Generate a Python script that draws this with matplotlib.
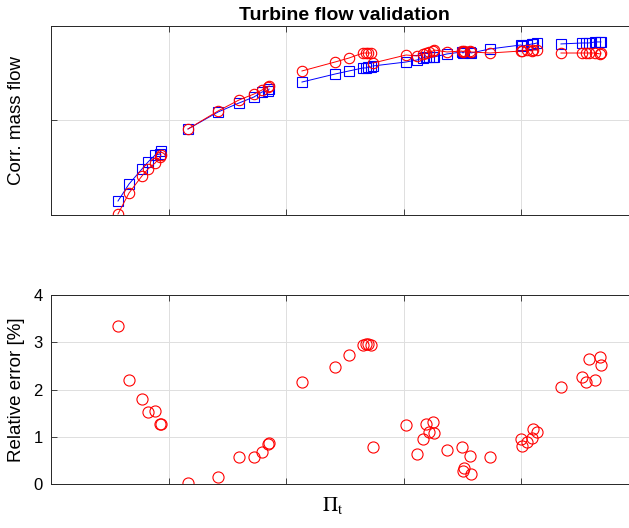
import matplotlib
matplotlib.use('Agg')
import matplotlib.pyplot as plt

plt.rcParams['font.family'] = ['Liberation Sans', 'DejaVu Sans']
plt.rcParams['mathtext.fontset'] = 'stix'

# pressure ratio of every operating point, one list per speed line
pi_t = [
    [1.285, 1.332, 1.387, 1.413, 1.443, 1.464, 1.468],
    [1.583, 1.711, 1.800, 1.864, 1.898, 1.923, 1.928],
    [2.068, 2.209, 2.268, 2.328, 2.340, 2.349, 2.362],
    [2.370, 2.511, 2.557, 2.583, 2.596, 2.609, 2.626, 2.630, 2.685, 2.749,
     2.753, 2.757, 2.783, 2.787, 2.868, 3.000, 3.004, 3.026, 3.047, 3.051, 3.068],
    [3.170, 3.260, 3.277, 3.289, 3.315, 3.336, 3.340],
]

# measured corrected mass flow
m_meas = [
    [0.4148, 0.4328, 0.4487, 0.4561, 0.4635, 0.4646, 0.4677],
    [0.4910, 0.5090, 0.5185, 0.5249, 0.5302, 0.5312, 0.5333],
    [0.5407, 0.5492, 0.5524, 0.5556, 0.5556, 0.5566, 0.5566],
    [0.5577, 0.5619, 0.5640, 0.5661, 0.5672, 0.5672, 0.5672, 0.5672, 0.5704, 0.5725,
     0.5714, 0.5725, 0.5725, 0.5714, 0.5757, 0.5799, 0.5788, 0.5799, 0.5810, 0.5810, 0.5820],
    [0.5810, 0.5820, 0.5820, 0.5820, 0.5831, 0.5831, 0.5831],
]

# model corrected mass flow
m_model = [
    [0.4011, 0.4233, 0.4413, 0.4487, 0.4550, 0.4614, 0.4635],
    [0.4910, 0.5101, 0.5217, 0.5280, 0.5323, 0.5354, 0.5365],
    [0.5524, 0.5619, 0.5661, 0.5714, 0.5714, 0.5714, 0.5714],
    [0.5608, 0.5693, 0.5683, 0.5704, 0.5714, 0.5725, 0.5735, 0.5746, 0.5725, 0.5735,
     0.5725, 0.5735, 0.5735, 0.5725, 0.5714, 0.5735, 0.5735, 0.5746, 0.5735, 0.5746, 0.5746],
    [0.5714, 0.5714, 0.5714, 0.5714, 0.5714, 0.5704, 0.5714],
]

# relative error [%]
rel_err = [
    [3.34, 2.21, 1.80, 1.53, 1.55, 1.27, 1.27],
    [0.02, 0.15, 0.57, 0.57, 0.68, 0.85, 0.86],
    [2.16, 2.48, 2.73, 2.94, 2.96, 2.96, 2.94],
    [0.78, 1.25, 0.63, 0.95, 1.27, 1.10, 1.31, 1.08, 0.72, 0.78,
     0.28, 0.34, 0.59, 0.21, 0.57, 0.95, 0.80, 0.89, 0.97, 1.16, 1.10],
    [2.05, 2.26, 2.16, 2.65, 2.20, 2.68, 2.52],
]

fig = plt.figure(figsize=(6.29, 5.28), dpi=100)
ax1 = fig.add_axes([0.0811, 0.5928, 0.934, 0.358])
ax2 = fig.add_axes([0.0811, 0.0833, 0.934, 0.358])

for x, ym, yc in zip(pi_t, m_meas, m_model):
    ax1.plot(x, ym, 's-', color='b', lw=0.7, ms=6.5, mfc='none', mew=0.8)
    ax1.plot(x, yc, 'o-', color='r', lw=0.7, ms=7.5, mfc='none', mew=0.8)

for x, e in zip(pi_t, rel_err):
    ax2.plot(x, e, 'o', color='r', ms=8, mfc='none', mew=0.8)

for ax in (ax1, ax2):
    ax.set_xlim(1.0, 3.5)
    ax.set_xticks([1.5, 2.0, 2.5, 3.0])
    ax.set_xticklabels([])
    ax.grid(True, color='#dedede', lw=0.7)
    ax.set_axisbelow(True)
    ax.tick_params(direction='in', length=4, width=0.6, color='#262626',
                   top=True, right=True, labelsize=12, pad=6)
    for s in ax.spines.values():
        s.set_color('#262626')
        s.set_linewidth(0.7)

ax1.set_ylim(0.4, 0.6)
ax1.set_yticks([0.4, 0.5, 0.6])
ax1.set_yticklabels([])
ax1.set_ylabel('Corr. mass flow', fontsize=13.5)
ax1.yaxis.set_label_coords(-0.045, 0.5)
ax1.set_title('Turbine flow validation', fontsize=14, fontweight='bold', pad=4)

ax2.set_ylim(0, 4)
ax2.set_yticks([0, 1, 2, 3, 4])
ax2.set_ylabel('Relative error [%]', fontsize=13.5)
ax2.yaxis.set_label_coords(-0.045, 0.5)
ax2.set_xlabel(r'$\mathrm{\Pi_t}$', fontsize=15)
ax2.xaxis.set_label_coords(0.48, -0.06)

fig.savefig('out.png', dpi=100)
